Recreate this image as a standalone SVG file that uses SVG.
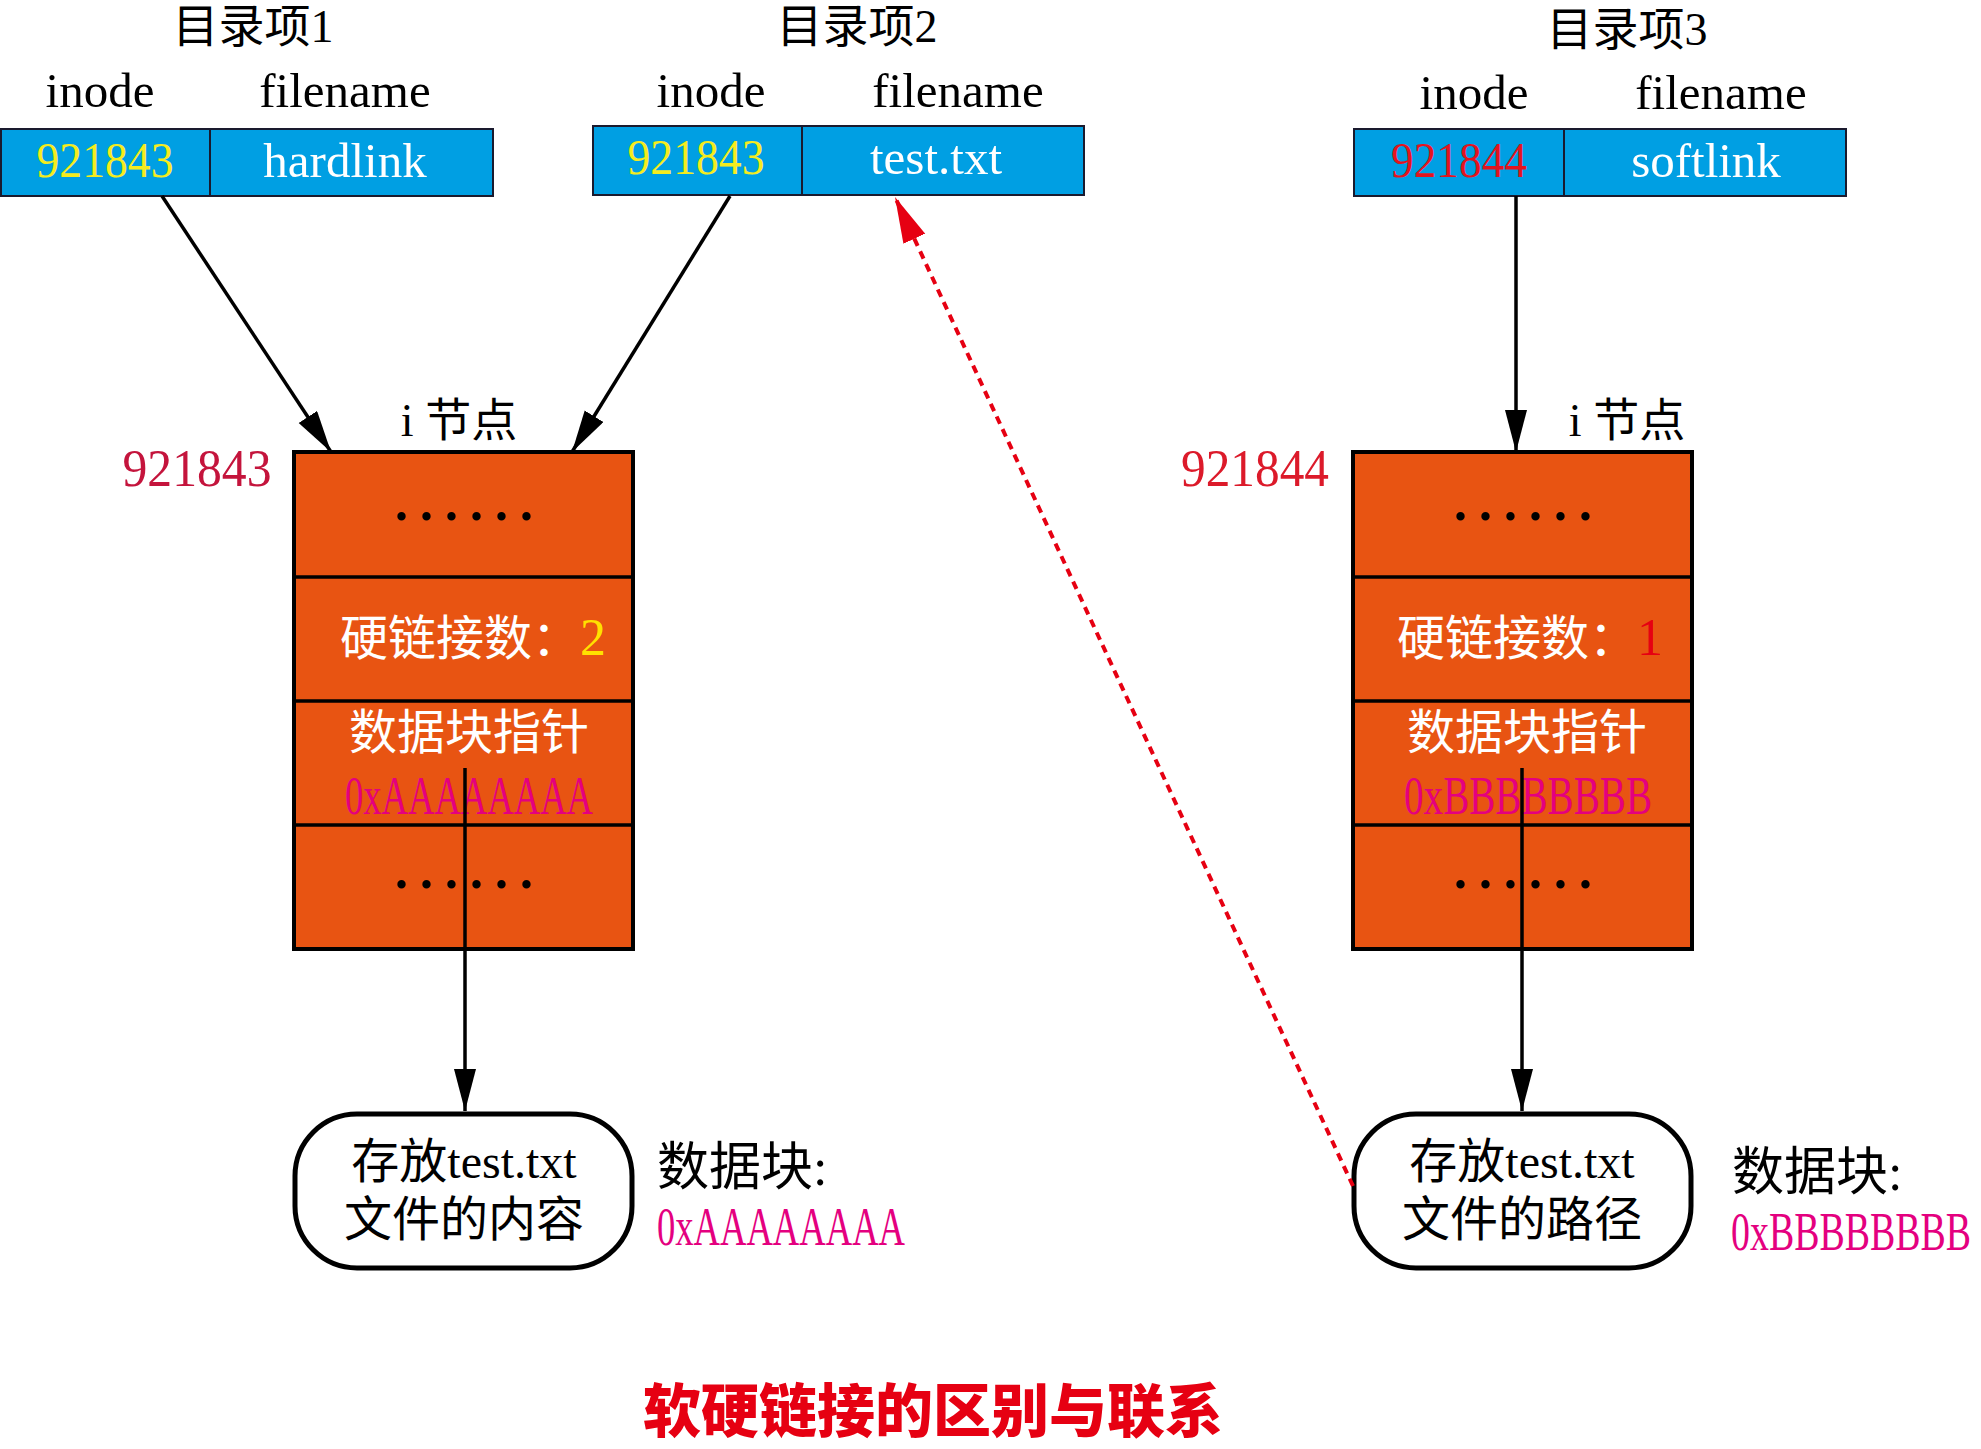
<svg xmlns="http://www.w3.org/2000/svg" width="1981" height="1449" viewBox="0 0 1981 1449">
<style>
text{font-family:"Liberation Serif","Noto Sans CJK SC",serif;}
.hd{font-size:49px;fill:#000;text-anchor:middle;}
.tt{font-size:46px;fill:#000;text-anchor:middle;}
.box{fill:#009FE3;stroke:#1a1a2e;stroke-width:2;}
.div{stroke:#1a1a2e;stroke-width:2;}
.yel{font-size:50px;fill:#F5EC1E;text-anchor:middle;}
.red{font-size:50px;fill:#E3141E;text-anchor:middle;}
.wht{font-size:49px;fill:#fff;text-anchor:middle;}
.tbl{fill:#E85412;stroke:#000;stroke-width:4;}
.row{stroke:#000;stroke-width:3.5;}
.dots{font-family:"Noto Sans CJK SC",sans-serif;font-weight:300;font-size:75px;fill:#000;text-anchor:middle;}
.cn{font-size:48px;fill:#fff;text-anchor:middle;}
.hex{font-size:54px;fill:#E4007F;}
.lbl{font-size:52px;}
.blk{fill:#fff;stroke:#000;stroke-width:5;}
.bt{font-size:48px;fill:#000;text-anchor:middle;}
.arr{stroke:#000;stroke-width:3.5;fill:none;}
.dash{stroke:#E60012;stroke-width:4;fill:none;stroke-dasharray:8 6;}
.title{font-family:"Noto Sans CJK SC",sans-serif;font-weight:900;font-size:58px;fill:#E60012;text-anchor:middle;}
</style>
<defs>
<marker id="ab" markerUnits="userSpaceOnUse" markerWidth="44" markerHeight="24" refX="42" refY="11" orient="auto">
<path d="M0,0 L42,11 L0,22 z" fill="#000"/>
</marker>
<marker id="ar" markerUnits="userSpaceOnUse" markerWidth="48" markerHeight="26" refX="46" refY="12" orient="auto">
<path d="M0,0 L46,12 L0,24 z" fill="#E60012"/>
</marker>
</defs>

<g id="dir1">
<text class="tt" x="253" y="42">目录项1</text>
<text class="hd" x="100" y="107">inode</text>
<text class="hd" x="345" y="107">filename</text>
<rect class="box" x="1" y="129" width="492" height="67"/>
<line class="div" x1="210" y1="129" x2="210" y2="196"/>
<text class="yel" x="105" y="177" textLength="137" lengthAdjust="spacingAndGlyphs">921843</text>
<text class="wht" x="345" y="177">hardlink</text>
</g>

<g id="dir2">
<text class="tt" x="857" y="42">目录项2</text>
<text class="hd" x="711" y="107">inode</text>
<text class="hd" x="958" y="107">filename</text>
<rect class="box" x="593" y="126" width="491" height="69"/>
<line class="div" x1="802" y1="126" x2="802" y2="195"/>
<text class="yel" x="696" y="174" textLength="137" lengthAdjust="spacingAndGlyphs">921843</text>
<text class="wht" x="936" y="174">test.txt</text>
</g>

<g id="dir3">
<text class="tt" x="1627" y="45">目录项3</text>
<text class="hd" x="1474" y="109">inode</text>
<text class="hd" x="1721" y="109">filename</text>
<rect class="box" x="1354" y="129" width="492" height="67"/>
<line class="div" x1="1564" y1="129" x2="1564" y2="196"/>
<text class="red" x="1459" y="177" textLength="136" lengthAdjust="spacingAndGlyphs">921844</text>
<text class="wht" x="1706" y="177">softlink</text>
</g>

<g id="inode1">
<text class="tt" x="459" y="436">i 节点</text>
<text class="lbl" x="197" y="486" fill="#C4143C" text-anchor="middle" textLength="149" lengthAdjust="spacingAndGlyphs">921843</text>
<rect class="tbl" x="294" y="452" width="339" height="497"/>
<line class="row" x1="294" y1="577" x2="633" y2="577"/>
<line class="row" x1="294" y1="701" x2="633" y2="701"/>
<line class="row" x1="294" y1="825" x2="633" y2="825"/>
<text class="dots" x="464" y="545">……</text>
<text class="cn" x="473" y="655"><tspan>硬链接数：</tspan><tspan fill="#FFE100" font-size="52">2</tspan></text>
<text class="cn" x="469" y="749">数据块指针</text>
<text class="hex" x="345" y="814" textLength="248" lengthAdjust="spacingAndGlyphs">0xAAAAAAAA</text>
<text class="dots" x="464" y="913">……</text>
</g>

<g id="inode2">
<text class="tt" x="1627" y="436">i 节点</text>
<text class="lbl" x="1255" y="486" fill="#DC1A2A" text-anchor="middle" textLength="148" lengthAdjust="spacingAndGlyphs">921844</text>
<rect class="tbl" x="1353" y="452" width="339" height="497"/>
<line class="row" x1="1353" y1="577" x2="1692" y2="577"/>
<line class="row" x1="1353" y1="701" x2="1692" y2="701"/>
<line class="row" x1="1353" y1="825" x2="1692" y2="825"/>
<text class="dots" x="1523" y="545">……</text>
<text class="cn" x="1530" y="655"><tspan>硬链接数：</tspan><tspan fill="#E60012" font-size="52">1</tspan></text>
<text class="cn" x="1527" y="749">数据块指针</text>
<text class="hex" x="1404" y="814" textLength="248" lengthAdjust="spacingAndGlyphs">0xBBBBBBBB</text>
<text class="dots" x="1523" y="913">……</text>
</g>

<g id="block1">
<rect class="blk" x="295" y="1114" width="337" height="154" rx="62" ry="62"/>
<text class="bt" x="464" y="1178">存放test.txt</text>
<text class="bt" x="464" y="1236">文件的内容</text>
<text class="lbl" x="657" y="1185" fill="#000">数据块:</text>
<text class="hex" x="657" y="1245" textLength="248" lengthAdjust="spacingAndGlyphs">0xAAAAAAAA</text>
</g>

<g id="block2">
<rect class="blk" x="1354" y="1114" width="337" height="154" rx="62" ry="62"/>
<text class="bt" x="1522" y="1178">存放test.txt</text>
<text class="bt" x="1522" y="1236">文件的路径</text>
<text class="lbl" x="1732" y="1190" fill="#000">数据块:</text>
<text class="hex" x="1731" y="1250" textLength="240" lengthAdjust="spacingAndGlyphs">0xBBBBBBBB</text>
</g>

<g id="connectors">
<line class="arr" x1="162" y1="196" x2="331" y2="452" marker-end="url(#ab)"/>
<line class="arr" x1="730" y1="196" x2="572" y2="452" marker-end="url(#ab)"/>
<line class="arr" x1="1516" y1="196" x2="1516" y2="452" marker-end="url(#ab)"/>
<line class="arr" x1="465" y1="768" x2="465" y2="1111" marker-end="url(#ab)"/>
<line class="arr" x1="1522" y1="768" x2="1522" y2="1111" marker-end="url(#ab)"/>
<line class="dash" x1="1353" y1="1186" x2="895" y2="197" marker-end="url(#ar)"/>
</g>

<text class="title" x="933" y="1432">软硬链接的区别与联系</text>
</svg>
